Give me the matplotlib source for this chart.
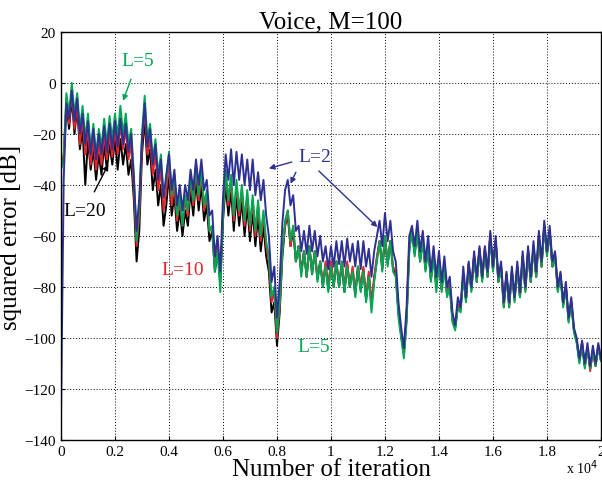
import numpy as np
import matplotlib
matplotlib.use("Agg")
import matplotlib.pyplot as plt

plt.rcParams['font.family'] = ['Liberation Serif', 'DejaVu Serif']

# squared error [dB], one sample every 100 iterations (0 .. 20000)
err_L2 = [-131, -38, -8, -14, -3, -15, -6, -20, -12, -24, -15, -28, -18, -30, -20, -28, -17, -27, -16, -26,
          -15, -25, -14, -24, -16, -27, -20, -38, -58, -45, -22, -8, -25, -18, -32, -24, -38, -30, -45, -36,
          -28, -42, -34, -48, -40, -50, -40, -46, -34, -42, -30, -40, -30, -42, -38, -52, -50, -68, -60, -74,
          -45, -28, -38, -26, -40, -27, -38, -28, -40, -30, -42, -30, -44, -35, -46, -38, -52, -60, -78, -72,
          -92, -78, -55, -42, -38, -48, -44, -58, -56, -66, -58, -67, -56, -66, -58, -68, -60, -70, -64, -73,
          -64, -72, -62, -71, -62, -72, -61, -70, -63, -72, -62, -73, -62, -72, -65, -76, -66, -60, -54, -64,
          -51, -62, -54, -66, -70, -86, -96, -104, -88, -60, -56, -64, -54, -66, -58, -70, -60, -74, -64, -76,
          -66, -78, -68, -80, -76, -90, -95, -84, -88, -72, -84, -70, -80, -66, -76, -64, -76, -64, -74, -58,
          -72, -60, -76, -70, -86, -74, -86, -72, -84, -70, -82, -66, -80, -64, -76, -62, -74, -58, -70, -54,
          -66, -56, -70, -66, -80, -74, -86, -78, -92, -84, -96, -100, -108, -101, -110, -102, -111, -103, -110, -102,
          -108]

err_L5 = [-34, -30, -4, -12, 0, -12, -4, -18, -9, -22, -12, -26, -16, -28, -18, -25, -14, -24, -13, -22,
          -12, -21, -9, -20, -12, -24, -18, -36, -62, -48, -20, -5, -22, -16, -30, -22, -36, -28, -44, -38,
          -27, -44, -36, -52, -44, -56, -44, -50, -36, -46, -32, -44, -34, -48, -42, -58, -56, -74, -66, -82,
          -52, -34, -46, -36, -52, -38, -50, -40, -54, -42, -56, -44, -58, -46, -60, -50, -62, -68, -84, -80,
          -98, -86, -66, -54, -50, -62, -56, -70, -64, -76, -66, -76, -64, -75, -66, -78, -70, -80, -72, -82,
          -72, -80, -70, -80, -70, -82, -72, -80, -74, -84, -72, -82, -74, -86, -76, -90, -78, -70, -62, -74,
          -60, -72, -62, -74, -76, -92, -100, -108, -94, -66, -58, -68, -58, -70, -62, -74, -64, -78, -68, -82,
          -70, -82, -72, -84, -80, -94, -97, -88, -90, -76, -86, -72, -82, -68, -78, -66, -78, -66, -76, -60,
          -74, -62, -78, -72, -88, -76, -88, -74, -86, -72, -84, -68, -82, -66, -78, -64, -76, -60, -72, -56,
          -68, -58, -72, -68, -82, -76, -88, -80, -94, -86, -98, -102, -110, -103, -112, -104, -112, -105, -111, -104,
          -109]

err_L10 = [-33, -28, -6, -16, -4, -18, -8, -24, -14, -28, -18, -32, -22, -34, -24, -32, -20, -30, -20, -29,
           -18, -28, -16, -26, -18, -30, -24, -42, -64, -52, -24, -10, -28, -22, -36, -28, -42, -34, -50, -42,
           -32, -48, -40, -54, -46, -56, -46, -52, -38, -48, -34, -46, -36, -50, -44, -58, -56, -72, -64, -78,
           -50, -36, -48, -38, -54, -40, -52, -42, -56, -44, -58, -46, -60, -48, -62, -52, -64, -70, -86, -82,
           -100, -88, -66, -56, -50, -64, -56, -70, -64, -74, -66, -76, -64, -74, -66, -76, -70, -79, -70, -80,
           -70, -79, -70, -80, -70, -80, -70, -80, -72, -82, -72, -80, -72, -84, -74, -86, -76, -68, -62, -72,
           -60, -70, -62, -72, -74, -90, -98, -106, -92, -64, -58, -66, -58, -69, -62, -72, -64, -77, -67, -80,
           -69, -81, -71, -83, -79, -92, -96, -87, -89, -75, -85, -71, -81, -68, -78, -65, -77, -65, -76, -59,
           -73, -62, -78, -72, -88, -75, -88, -74, -85, -72, -84, -68, -81, -66, -78, -64, -76, -60, -72, -56,
           -67, -58, -72, -68, -81, -75, -87, -80, -93, -86, -97, -101, -109, -102, -111, -104, -113, -105, -111, -103,
           -109]

err_L20 = [-33, -30, -8, -18, -6, -20, -10, -26, -18, -40, -22, -34, -26, -38, -28, -36, -24, -34, -24, -32,
           -22, -34, -22, -32, -24, -36, -30, -46, -70, -58, -28, -14, -32, -26, -42, -34, -48, -40, -56, -48,
           -36, -52, -44, -58, -50, -60, -50, -56, -42, -52, -38, -50, -40, -54, -48, -62, -58, -74, -66, -78,
           -54, -40, -52, -42, -58, -44, -56, -46, -60, -48, -62, -50, -64, -52, -66, -56, -68, -74, -90, -86,
           -103, -90, -68, -56, -52, -64, -58, -70, -64, -74, -66, -76, -64, -75, -66, -77, -70, -80, -71, -81,
           -70, -80, -70, -80, -71, -82, -71, -80, -73, -83, -72, -81, -73, -85, -75, -87, -77, -69, -62, -73,
           -61, -71, -62, -73, -75, -90, -99, -106, -92, -65, -58, -67, -58, -70, -62, -73, -64, -77, -67, -80,
           -69, -81, -71, -83, -79, -93, -96, -87, -89, -75, -85, -71, -81, -68, -78, -65, -77, -65, -76, -60,
           -73, -62, -78, -72, -87, -75, -87, -74, -85, -72, -84, -68, -81, -66, -78, -64, -76, -60, -72, -56,
           -67, -58, -72, -68, -81, -75, -87, -80, -93, -86, -97, -101, -109, -102, -111, -104, -112, -105, -111, -103,
           -109]

series_labels = ['L=20', 'L=10', 'L=5', 'L=2']
series_colors = ['#000000', '#e8242c', '#00a651', '#2e3192']
x_ticklabels = ['0', '0.2', '0.4', '0.6', '0.8', '1', '1.2', '1.4', '1.6', '1.8', '2']

fig = plt.figure(figsize=(6.02, 4.81), dpi=100)
ax = fig.add_axes([0.1013, 0.0832, 0.8970, 0.8482])

for data, col in zip([err_L20, err_L10, err_L5, err_L2], series_colors):
    it = np.linspace(0, 20000, len(data))
    ax.plot(it, data, color=col, lw=1.4)

ax.set_xlim(0, 20000)
ax.set_ylim(-140, 20)
ax.set_xticks(np.arange(0, 20001, 2000))
ax.set_xticklabels(x_ticklabels)
ax.set_yticks(np.arange(-140, 21, 20))
ax.tick_params(direction='in', labelsize=11, length=3)
ax.grid(True, color='black', linestyle=(0, (1, 2)), linewidth=0.7)
for s in ax.spines.values():
    s.set_linewidth(1.0)

ax.set_title('Voice, M=100', fontsize=18, pad=3)
ax.set_xlabel('Number of iteration', fontsize=18, labelpad=0)
ax.set_ylabel('squared error [dB]', fontsize=18, labelpad=2)
ax.text(0.995, -0.065, 'x 10$^{4}$', transform=ax.transAxes, ha='right', va='center', fontsize=10)

# annotations
g, r, b, k = series_colors[2], series_colors[1], series_colors[3], series_colors[0]
ax.annotate('L=5', xy=(2300, -7), xytext=(2850, 9), color=g, fontsize=14, ha='center', va='center',
            arrowprops=dict(arrowstyle='-|>', color=g, lw=1.0, mutation_scale=8, shrinkA=6, shrinkB=0))
ax.annotate('L=20', xy=(1750, -32), xytext=(880, -50), color=k, fontsize=14, ha='center', va='center',
            arrowprops=dict(arrowstyle='-|>', color=k, lw=1.0, mutation_scale=8, shrinkA=6, shrinkB=0))
ax.text(4490, -73, 'L=10', color=r, fontsize=14, ha='center', va='center')
ax.text(9350, -103.5, 'L=5', color=g, fontsize=14, ha='center', va='center')
ax.text(9420, -29, 'L=2', color=b, fontsize=14, ha='center', va='center')
ax.annotate('', xy=(7700, -33.5), xytext=(8550, -31),
            arrowprops=dict(arrowstyle='-|>', color=b, lw=1.0, mutation_scale=8, shrinkA=0, shrinkB=0))
ax.annotate('', xy=(8500, -39.5), xytext=(8700, -35),
            arrowprops=dict(arrowstyle='-|>', color=b, lw=1.0, mutation_scale=8, shrinkA=0, shrinkB=0))
ax.annotate('', xy=(11720, -56.5), xytext=(9550, -34.5),
            arrowprops=dict(arrowstyle='-|>', color=b, lw=1.0, mutation_scale=8, shrinkA=0, shrinkB=0))

fig.savefig('out.png', dpi=100)
